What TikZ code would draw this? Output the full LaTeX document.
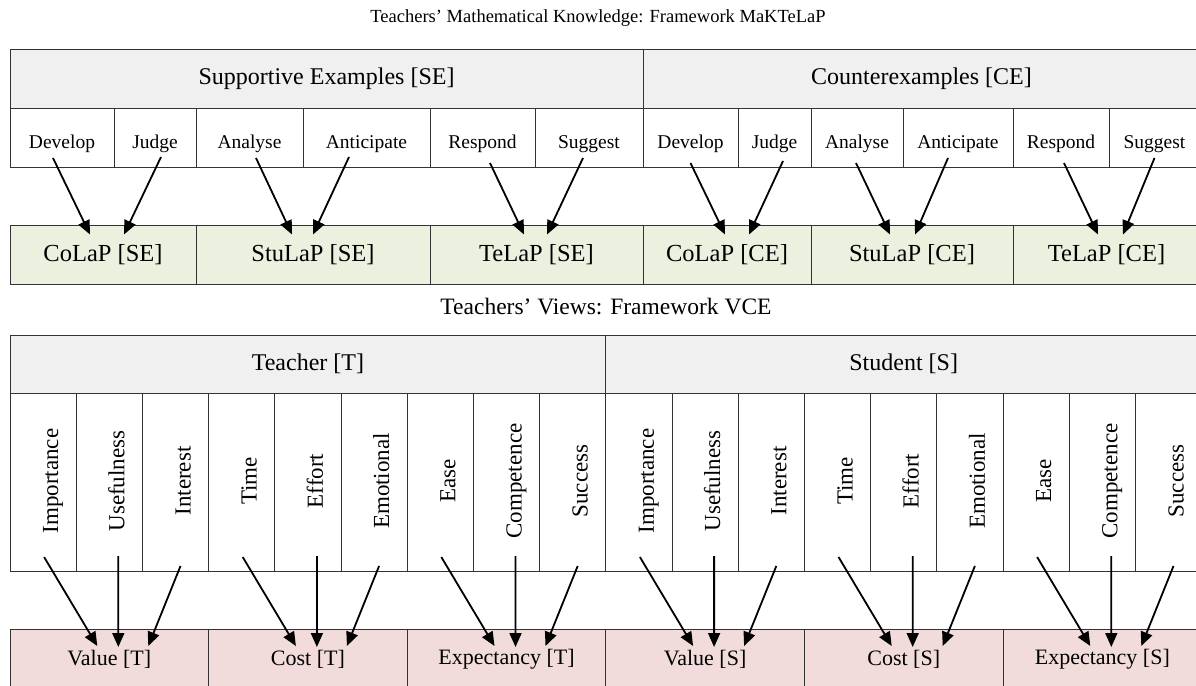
\documentclass[tikz,border=0pt]{standalone}
\usepackage{fontspec}
\setmainfont{Liberation Serif}
\usetikzlibrary{arrows.meta}
\definecolor{bandgray}{HTML}{F0F0F0}
\definecolor{boxgreen}{HTML}{EBF1DE}
\definecolor{boxpink}{HTML}{F2DCDB}
\definecolor{edgecol}{HTML}{333333}
\tikzset{
  cellbase/.style={draw=edgecol, line width=0.9pt, inner sep=0pt, outer sep=0pt, anchor=north west},
  band/.style={cellbase, fill=bandgray, font=\fontsize{24}{28}\selectfont},
  hcell/.style={cellbase, fill=white, minimum height=59pt, text height=21pt, text depth=0pt, font=\fontsize{19.5}{23}\selectfont},
  gbox/.style={cellbase, fill=boxgreen, minimum height=59pt, font=\fontsize{24.5}{29}\selectfont},
  vcell/.style={cellbase, fill=white, minimum width=66.2pt, minimum height=178pt},
  vtext/.style={inner sep=0pt, rotate=90, anchor=base, font=\fontsize{23}{27}\selectfont},
  pbox/.style={cellbase, fill=boxpink, minimum width=198.6pt, minimum height=61pt, font=\fontsize{22}{26}\selectfont},
  ttl/.style={inner sep=0pt},
  arr/.style={line width=1.8pt, draw=black, -{Triangle[length=14pt,width=12pt]}},
}
\begin{document}
\begin{tikzpicture}[x=1pt,y=-1pt]
\useasboundingbox (0,0) rectangle (1196,685);
\clip (0,0) rectangle (1196,685);
\fill[white] (0,0) rectangle (1196,685);

% ---------- top framework ----------
\node[ttl, font=\fontsize{18.5}{22}\selectfont] (title1) at (598,18) {Teachers’ Mathematical Knowledge: Framework MaKTeLaP};
\node[band, minimum width=633pt, minimum height=59pt] (hse) at (10,49) {Supportive Examples [SE]};
\node[band, minimum width=557pt, minimum height=59pt] (hce) at (643,49) {Counterexamples [CE]};

\foreach \nm/\xx/\ww/\lab in {se1/10/104/Develop, se2/114/82/Judge, se3/196/107/Analyse,
    se4/303/127/Anticipate, se5/430/105/Respond, se6/535/108/Suggest,
    ce1/643/95/Develop, ce2/738/73/Judge, ce3/811/92/Analyse,
    ce4/903/110/Anticipate, ce5/1013/96/Respond, ce6/1109/91/Suggest}
  \node[hcell, minimum width=\ww pt] (\nm) at (\xx,108) {\lab};

\foreach \nm/\xx/\ww/\lab in {gse1/10/186/{CoLaP [SE]}, gse2/196/234/{StuLaP [SE]}, gse3/430/213/{TeLaP [SE]},
    gce1/643/168/{CoLaP [CE]}, gce2/811/202/{StuLaP [CE]}, gce3/1013/187/{TeLaP [CE]}}
  \node[gbox, minimum width=\ww pt] (\nm) at (\xx,225) {\lab};

% ---------- bottom framework ----------
\node[ttl, font=\fontsize{23.5}{27}\selectfont] (title2) at (606,307) {Teachers’ Views: Framework VCE};
\node[band, minimum width=595.8pt, minimum height=58pt] (ht) at (10,335) {Teacher [T]};
\node[band, minimum width=595.8pt, minimum height=58pt] (hs) at (605.8,335) {Student [S]};

\foreach \lab [count=\i from 0] in {Importance,Usefulness,Interest,Time,Effort,Emotional,Ease,Competence,Success,
    Importance,Usefulness,Interest,Time,Effort,Emotional,Ease,Competence,Success} {
  \node[vcell] (v\i) at ({10+\i*66.2},393) {};
  \node[vtext] (vt\i) at ({10+(\i+0.5)*66.2+15},481) {\lab};
}

\foreach \lab [count=\g from 0] in {Value [T],Cost [T],Expectancy [T],Value [S],Cost [S],Expectancy [S]}
  \node[pbox] (p\g) at ({10+\g*198.6},629) {\lab};

% ---------- arrows ----------
\foreach \na/\nx/\ny/\ma/\mx in {se1/-9/9/gse1/-13, se2/6/10/gse1/21, se3/6.5/9/gse2/-21,
    se4/-17.5/10/gse2/0, se5/7.5/4/gse3/-12.5, se6/-6/9/gse3/10.5,
    ce1/0/4/gce1/-2, ce2/8.5/6/gce1/22, ce3/-1/4/gce2/-22,
    ce4/-10/9/gce2/3, ce5/3/4/gce3/-8.5, ce6/0/9/gce3/16.5}
  \draw[arr] ([xshift=\nx pt,yshift=\ny pt]\na.south) -- ([xshift=\mx pt,yshift=-9.5pt]\ma.north);

\foreach \g in {0,...,5} {
  \pgfmathtruncatemacro\ca{3*\g}
  \pgfmathtruncatemacro\cb{3*\g+1}
  \pgfmathtruncatemacro\cc{3*\g+2}
  \draw[arr] ([xshift=1pt,yshift=14pt]v\ca.south) -- ([xshift=-12pt,yshift=-17pt]p\g.north);
  \draw[arr] ([xshift=9pt,yshift=15pt]v\cb.south) -- ([xshift=9pt,yshift=-18pt]p\g.north);
  \draw[arr] ([xshift=5pt,yshift=5pt]v\cc.south) -- ([xshift=39pt,yshift=-17pt]p\g.north);
}
\end{tikzpicture}
\end{document}
